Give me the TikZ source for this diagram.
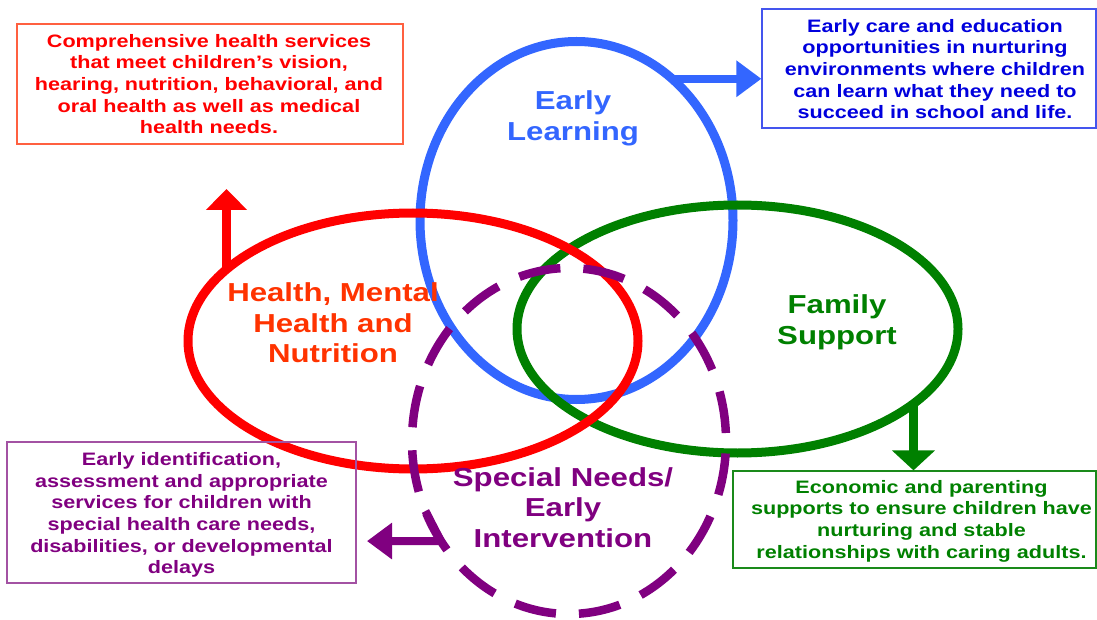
\documentclass[tikz,border=0pt]{standalone}
\usepackage{fontspec}
\setmainfont{Liberation Sans}[FakeStretch=1.2]
\usetikzlibrary{arrows.meta,shapes.geometric}

\definecolor{elblue}{HTML}{3366FF}
\definecolor{elred}{HTML}{FF0000}
\definecolor{elgreen}{HTML}{008000}
\definecolor{elpurple}{HTML}{800080}
\definecolor{healthtxt}{HTML}{FF3300}
\definecolor{redframe}{HTML}{FF6040}
\definecolor{blueframe}{HTML}{4455EE}
\definecolor{bluetxt}{HTML}{0000DD}
\definecolor{purpleframe}{HTML}{A352A3}
\definecolor{greenframe}{HTML}{1A8A1A}

\tikzset{
  ring/.style={ellipse, draw, line width=9pt, inner sep=0pt, outer sep=0pt},
  dashring/.style={ring, line width=8.5pt, dash pattern=on 42pt off 23pt, dash phase=57pt},
  infobox/.style={rectangle, draw, line width=1.2pt, inner sep=0pt},
  boxtext/.style={align=center, inner sep=0pt, font=\fontsize{18}{21.7}\selectfont\bfseries},
  ringlabel/.style={align=center, inner sep=0pt, font=\fontsize{26}{30.7}\selectfont\bfseries},
  pointer/.style={line width=8pt},
}

\begin{document}
\begin{tikzpicture}[x=1pt,y=-1pt]
\useasboundingbox (0,0) rectangle (1097,620);

% the four overlapping service areas
\node[ring, draw=elblue, minimum width=313pt, minimum height=358pt] (learn) at (576.5,220.5) {};
\node[ring, draw=elgreen, minimum width=441pt, minimum height=248pt] (family) at (737.5,329) {};
\node[ring, draw=elred, minimum width=450pt, minimum height=256pt] (health) at (413,341) {};
\node[dashring, draw=elpurple, minimum width=314pt, minimum height=346pt] (special) at (569,441) {};

% description boxes
\node[infobox, draw=redframe, minimum width=386pt, minimum height=120pt] (redbox) at (210,84) {};
\node[infobox, draw=blueframe, minimum width=334pt, minimum height=119pt] (bluebox) at (929,68.5) {};
\node[infobox, draw=purpleframe, minimum width=349pt, minimum height=141pt] (purplebox) at (181.5,512.5) {};
\node[infobox, draw=greenframe, minimum width=363pt, minimum height=97pt] (greenbox) at (914.5,519.5) {};

\node[boxtext, text=elred] (redtext) at (209,84) {Comprehensive health services\\that meet children’s vision,\\hearing, nutrition, behavioral, and\\oral health as well as medical\\health needs.};
\node[boxtext, text=bluetxt] (bluetext) at (935,69) {Early care and education\\opportunities in nurturing\\environments where children\\can learn what they need to\\succeed in school and life.};
\node[boxtext, text=elpurple] (purpletext) at (181.5,515) {Early identification,\\assessment and appropriate\\services for children with\\special health care needs,\\disabilities, or developmental\\delays};
\node[boxtext, text=elgreen] (greentext) at (921.5,521) {Economic and parenting\\supports to ensure children have\\nurturing and stable\\relationships with caring adults.};

% pointers from the areas to their descriptions
\coordinate (redtip) at (224,189);
\coordinate (purpletip) at (367,541);
\draw[pointer, elred, -{Triangle[length=21pt,width=40pt]}] (health.159.8) -- (health.159.8 |- redtip);
\draw[pointer, elblue, -{Triangle[length=25pt,width=35pt]}] (learn.56) -- (learn.56 -| bluebox.west);
\draw[pointer, elgreen, -{Triangle[length=20pt,width=42pt]}] (family.-23.5) -- (family.-23.5 |- greenbox.north);
\draw[pointer, elpurple, line join=miter, -{Triangle[length=25pt,width=35pt]}] (special.206.4) -- (special.218) -- (special.218 -| purpletip);

% area titles
\node[ringlabel, text=elblue] (learnlabel) at (573,118) {Early\\Learning};
\node[ringlabel, text=healthtxt] (healthlabel) at (333,323) {Health, Mental\\Health and\\Nutrition};
\node[ringlabel, text=elgreen] (familylabel) at (837,322) {Family\\Support};
\node[ringlabel, text=elpurple] (speciallabel) at (563,507.5) {Special Needs/\\Early\\Intervention};
\end{tikzpicture}
\end{document}
